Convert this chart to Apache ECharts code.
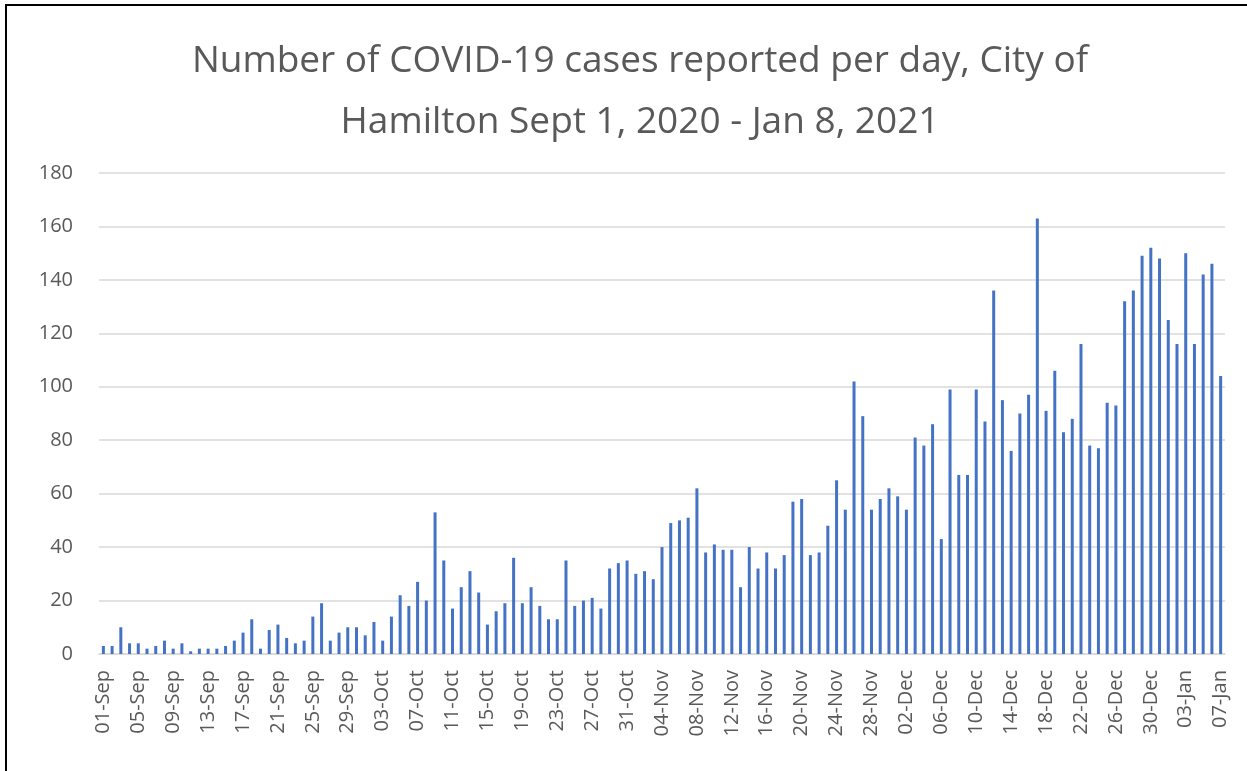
<!DOCTYPE html>
<html>
<head>
<meta charset="utf-8">
<script src="https://cdn.jsdelivr.net/npm/echarts@6/dist/echarts.min.js"></script>
<style>
html,body{margin:0;padding:0;background:#fff;}
#frame{position:absolute;left:5px;top:4px;width:1260px;height:780px;border-left:2px solid #000;border-top:2px solid #000;box-sizing:border-box;}
#chart{position:absolute;left:0;top:0;width:1247px;height:771px;}
</style>
</head>
<body>
<div id="frame"></div>
<div id="chart"></div>
<script>
// Daily reported cases, City of Hamilton
const monthNames = ['Sep', 'Oct', 'Nov', 'Dec', 'Jan'];
const sepCases = [3,3,10,4,4,2,3,5,2,4,1,2,2,2,3,5,8,13,2,9,11,6,4,5,14,19,5,8,10,10];
const octCases = [7,12,5,14,22,18,27,20,53,35,17,25,31,23,11,16,19,36,19,25,18,13,13,35,18,20,21,17,32,34,35];
const novCases = [30,31,28,40,49,50,51,62,38,41,39,39,25,40,32,38,32,37,57,58,37,38,48,65,54,102,89,54,58,62];
const decCases = [59,54,81,78,86,43,99,67,67,99,87,136,95,76,90,97,163,91,106,83,88,116,78,77,94,93,132,136,149,152,148];
const janCases = [125,116,150,116,142,146,104];
const yTicks = [0,20,40,60,80,100,120,140,160,180];

const monthly = [sepCases, octCases, novCases, decCases, janCases];
const categories = [];
const values = [];
monthly.forEach(function (arr, m) {
  arr.forEach(function (v, d) {
    const day = d + 1;
    categories.push((day < 10 ? '0' + day : '' + day) + '-' + monthNames[m]);
    values.push(v);
  });
});

const chart = echarts.init(document.getElementById('chart'));
chart.setOption({
  backgroundColor: 'transparent',
  animation: false,
  title: {
    text: 'Number of COVID-19 cases reported per day, City of\nHamilton Sept 1, 2020 - Jan 8, 2021',
    left: 635,
    textAlign: 'center',
    top: 26,
    textStyle: {
      fontFamily: 'Open Sans',
      fontWeight: 'normal',
      fontSize: 37,
      lineHeight: 61,
      color: '#595959'
    }
  },
  grid: { left: 99, right: 22, top: 173, bottom: 117, containLabel: false },
  xAxis: {
    type: 'category',
    data: categories,
    axisLine: { show: true, lineStyle: { color: '#d9d9d9', width: 1.5 } },
    axisTick: { show: false },
    axisLabel: {
      interval: 3,
      rotate: 90,
      margin: 16,
      padding: [7, 0, 0, 0],
      fontFamily: 'Open Sans',
      fontSize: 20,
      color: '#595959'
    }
  },
  yAxis: {
    type: 'value',
    min: yTicks[0],
    max: yTicks[yTicks.length - 1],
    interval: 20,
    axisLine: { show: false },
    axisTick: { show: false },
    splitLine: { lineStyle: { color: '#d9d9d9', width: 1.5 } },
    axisLabel: {
      margin: 26,
      fontFamily: 'Open Sans',
      fontSize: 20,
      color: '#595959'
    }
  },
  series: [{
    type: 'bar',
    data: values,
    barWidth: 3,
    itemStyle: { color: '#4472C4' }
  }]
});
</script>
</body>
</html>
